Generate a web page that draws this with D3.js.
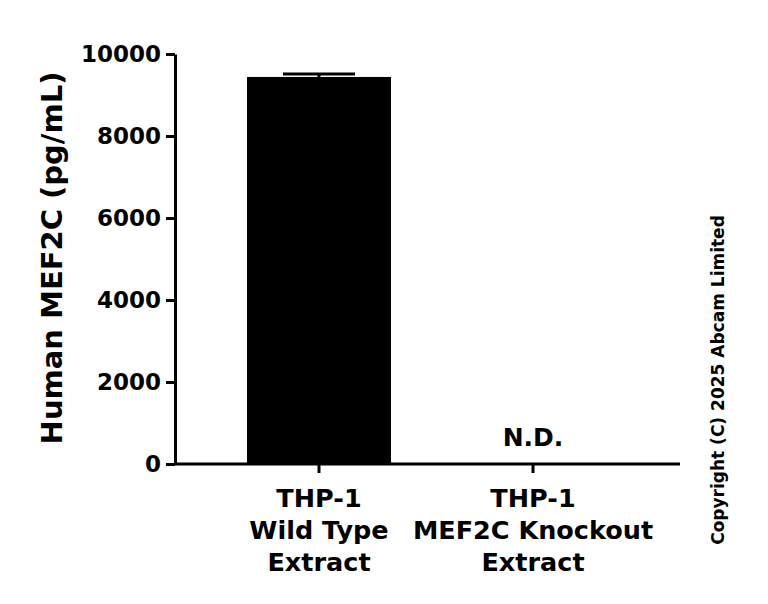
<!DOCTYPE html><html><head><meta charset="utf-8"><script src="https://cdn.jsdelivr.net/npm/d3@7"></script>
<style>body{margin:0;background:#fff}text{font-family:"DejaVu Sans",Arial,sans-serif;font-weight:bold}</style></head><body><svg width="768" height="604"></svg><script>
const categories=[["THP-1","Wild Type","Extract"],["THP-1","MEF2C Knockout","Extract"]];
const values=[9440,null];
const errors=[70,null];
const yTicks=[0,2000,4000,6000,8000,10000];
const svg=d3.select("svg");
const x=d3.scaleBand().domain([0,1]).range([212,640]).paddingInner(0.327).paddingOuter(0.1635);
const y=d3.scaleLinear().domain([0,10000]).range([464,54]);
const ya=svg.append("g").attr("transform","translate(175,0)").call(d3.axisLeft(y).tickValues(yTicks).tickFormat(d3.format("d")).tickSize(9).tickSizeOuter(0));
ya.select(".domain").attr("stroke-width",3);
ya.selectAll(".tick line").attr("stroke-width",3);
ya.selectAll("text").style("font-size","23px").attr("x",-14);
const xa=svg.append("g").attr("transform","translate(0,464)");
xa.append("line").attr("x1",174).attr("x2",680).attr("stroke","#000").attr("stroke-width",3);
categories.forEach((c,i)=>{const cx=x(i)+x.bandwidth()/2;
 xa.append("line").attr("x1",cx).attr("x2",cx).attr("y1",0).attr("y2",9).attr("stroke","#000").attr("stroke-width",3);
 c.forEach((t,j)=>xa.append("text").attr("x",cx).attr("y",43+j*32).attr("text-anchor","middle").style("font-size","25.5px").text(t));
 if(values[i]!=null){
  svg.append("rect").attr("x",x(i)).attr("width",x.bandwidth()).attr("y",y(values[i])).attr("height",y(0)-y(values[i])).attr("fill","#000");
  const e=y(values[i]+errors[i]);
  svg.append("line").attr("x1",cx-36).attr("x2",cx+36).attr("y1",e).attr("y2",e).attr("stroke","#000").attr("stroke-width",3);
  svg.append("line").attr("x1",cx).attr("x2",cx).attr("y1",e).attr("y2",y(values[i])).attr("stroke","#000").attr("stroke-width",3);
 } else {
  svg.append("text").attr("x",cx).attr("y",y(0)-18).attr("text-anchor","middle").style("font-size","25px").text("N.D.");
 }
});
svg.append("text").attr("transform","translate(62,258) rotate(-90)").attr("text-anchor","middle").style("font-size","29px").text("Human MEF2C (pg/mL)");
svg.append("text").attr("transform","translate(724,380) rotate(-90)").attr("text-anchor","middle").style("font-size","17px").text("Copyright (C) 2025 Abcam Limited");
</script></body></html>
